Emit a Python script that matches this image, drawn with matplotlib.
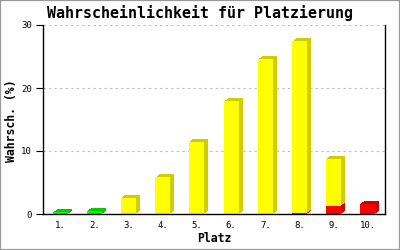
import matplotlib
matplotlib.use("Agg")
import matplotlib.pyplot as plt
import matplotlib.transforms as mtransforms
from matplotlib.patches import Rectangle
import numpy as np

categories = ["1.", "2.", "3.", "4.", "5.", "6.", "7.", "8.", "9.", "10."]
red_vals = [0, 0, 0, 0, 0, 0, 0, 0.15, 1.3, 1.6]
green_vals = [0.3, 0.5, 0, 0, 0, 0, 0, 0, 0, 0]
yellow_vals = [0, 0, 2.6, 5.8, 11.5, 17.9, 24.6, 27.25, 7.5, 0]
y_ticks = [0, 10, 20, 30]

series = [
    (red_vals, "#ff0000", "#cc0000"),
    (green_vals, "#00ff00", "#00cc00"),
    (yellow_vals, "#ffff00", "#d0cc00"),
]

W, H, DPI = 400, 250, 100
fig = plt.figure(figsize=(W / DPI, H / DPI), dpi=DPI)
fig.patch.set_facecolor("white")
fig.patches.append(Rectangle((0, 0), 1, 1, transform=fig.transFigure,
                             fill=False, edgecolor="#999999", linewidth=1.6))

left, right, top, bottom = 43, 385, 25, 214
ax = fig.add_axes([left / W, 1 - bottom / H, (right - left) / W, (bottom - top) / H])
ax.set_xlim(0.5, 10.5)
ax.set_ylim(0, 30)

x = np.arange(1, len(categories) + 1)
width = 0.44
mono = "DejaVu Sans Mono"

base = np.zeros(len(categories))
z = 3
for vals, front, shade in series:
    vals = np.array(vals, dtype=float)
    mask = vals > 0
    for k in range(1, 5):
        off = mtransforms.ScaledTranslation(k / DPI, 0.75 * k / DPI, fig.dpi_scale_trans)
        ax.bar(x[mask], vals[mask], width=width, bottom=base[mask], color=shade,
               linewidth=0, transform=ax.transData + off, zorder=z)
    z += 1
    ax.bar(x[mask], vals[mask], width=width, bottom=base[mask], color=front,
           linewidth=0, zorder=z)
    z += 1
    base = base + vals

ax.set_yticks(y_ticks)
ax.set_yticklabels([str(t) for t in y_ticks], fontsize=6.5, family=mono)
ax.set_xticks(x)
ax.set_xticklabels(categories, fontsize=6.5, family=mono)
ax.tick_params(axis="x", length=0, pad=5)
ax.tick_params(axis="y", length=5, width=0.8, direction="out", pad=3)
ax.yaxis.grid(True, linestyle=(0, (2, 3)), color="#bbbbbb", linewidth=0.8, zorder=0)
ax.set_axisbelow(True)

for s in ["left", "bottom", "right"]:
    ax.spines[s].set_linewidth(1.0)
    ax.spines[s].set_color("black")
    ax.spines[s].set_zorder(20)
ax.spines["top"].set_visible(False)

fig.text(0.5, 1 - 13 / H, "Wahrscheinlichkeit für Platzierung", ha="center", va="center",
         fontsize=10.8, fontweight="bold", family=mono)
fig.text(12 / W, 1 - 121 / H, "Wahrsch. (%)", ha="center", va="center", rotation=90,
         fontsize=8.3, fontweight="bold", family=mono)
fig.text(214 / W, 1 - 239 / H, "Platz", ha="center", va="center",
         fontsize=8.3, fontweight="bold", family=mono)

fig.savefig("out.png", dpi=DPI)
